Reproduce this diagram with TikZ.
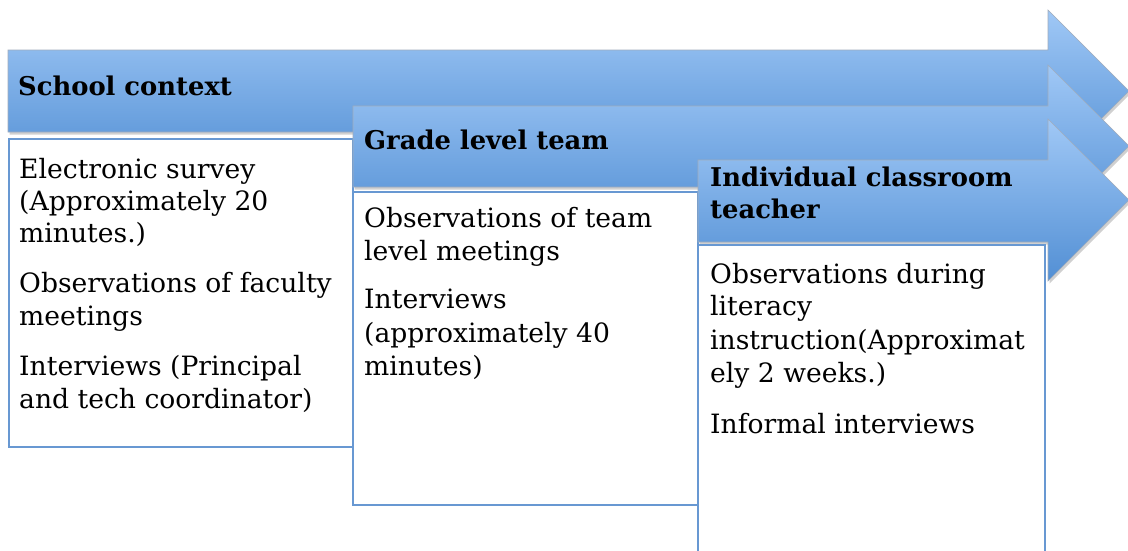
\documentclass[tikz,border=0pt]{standalone}
\usepackage{fontspec}
\setmainfont{DejaVu Serif}
\usetikzlibrary{shadows}
\definecolor{boxblue}{RGB}{104,152,210}
\definecolor{arrtop}{RGB}{160,200,246}
\definecolor{arrbot}{RGB}{82,143,212}
\definecolor{arredge}{RGB}{160,172,188}
\tikzset{
 arrowshape/.style={top color=arrtop, bottom color=arrbot, draw=arredge, line width=0.6pt, line join=miter,
   drop shadow={opacity=0.3, shadow xshift=1.5pt, shadow yshift=-2.5pt, fill=black!60}},
 listbox/.style={fill=white, draw=boxblue, line width=2.6pt},
 hdr/.style={anchor=base west, inner sep=0pt, font=\bfseries\fontsize{25.8}{32}\selectfont},
 item/.style={anchor=base west, inner sep=0pt, font=\fontsize{26.6}{32}\selectfont},
}
\begin{document}
\begin{tikzpicture}[x=1pt,y=-1pt]
\clip (0,0) rectangle (1128,550);
\fill[white] (0,0) rectangle (1128,550);

% arrow 1
\path[arrowshape] (8,50) -- (1048,50) -- (1048,10) -- (1129,91) -- (1048,172) -- (1048,132) -- (8,132) -- cycle;
\path[listbox] (9,139) rectangle (353,447);
% arrow 2
\path[arrowshape] (353,106) -- (1048,106) -- (1048,65) -- (1129,146) -- (1048,227) -- (1048,187) -- (353,187) -- cycle;
\path[listbox] (353,192) rectangle (698,505);
% arrow 3
\path[arrowshape] (698,160) -- (1048,160) -- (1048,119) -- (1129,200) -- (1048,281) -- (1048,242) -- (698,242) -- cycle;
\path[listbox] (698,245) rectangle (1045,570);

% headers
\node[hdr] (h1) at (18,95) {School context};
\node[hdr] (h2) at (364,149) {Grade level team};
\node[hdr] (h3a) at (710,186) {Individual classroom};
\node[hdr] (h3b) at (710,218) {teacher};

% box 1
\node[item] (a1) at (19,178) {Electronic survey};
\node[item] (a2) at (19,210) {(Approximately 20};
\node[item] (a3) at (19,242) {minutes.)};
\node[item] (a4) at (19,292) {Observations of faculty};
\node[item] (a5) at (19,325) {meetings};
\node[item] (a6) at (19,375) {Interviews (Principal};
\node[item] (a7) at (19,408) {and tech coordinator)};

% box 2
\node[item] (b1) at (364,227) {Observations of team};
\node[item] (b2) at (364,260) {level meetings};
\node[item] (b3) at (364,308) {Interviews};
\node[item] (b4) at (364,342) {(approximately 40};
\node[item] (b5) at (364,375) {minutes)};

% box 3
\node[item] (c1) at (710,283) {Observations during};
\node[item] (c2) at (710,315) {literacy};
\node[item] (c3) at (710,349) {instruction(Approximat};
\node[item] (c4) at (710,382) {ely 2 weeks.)};
\node[item] (c5) at (710,433) {Informal interviews};
\end{tikzpicture}
\end{document}
